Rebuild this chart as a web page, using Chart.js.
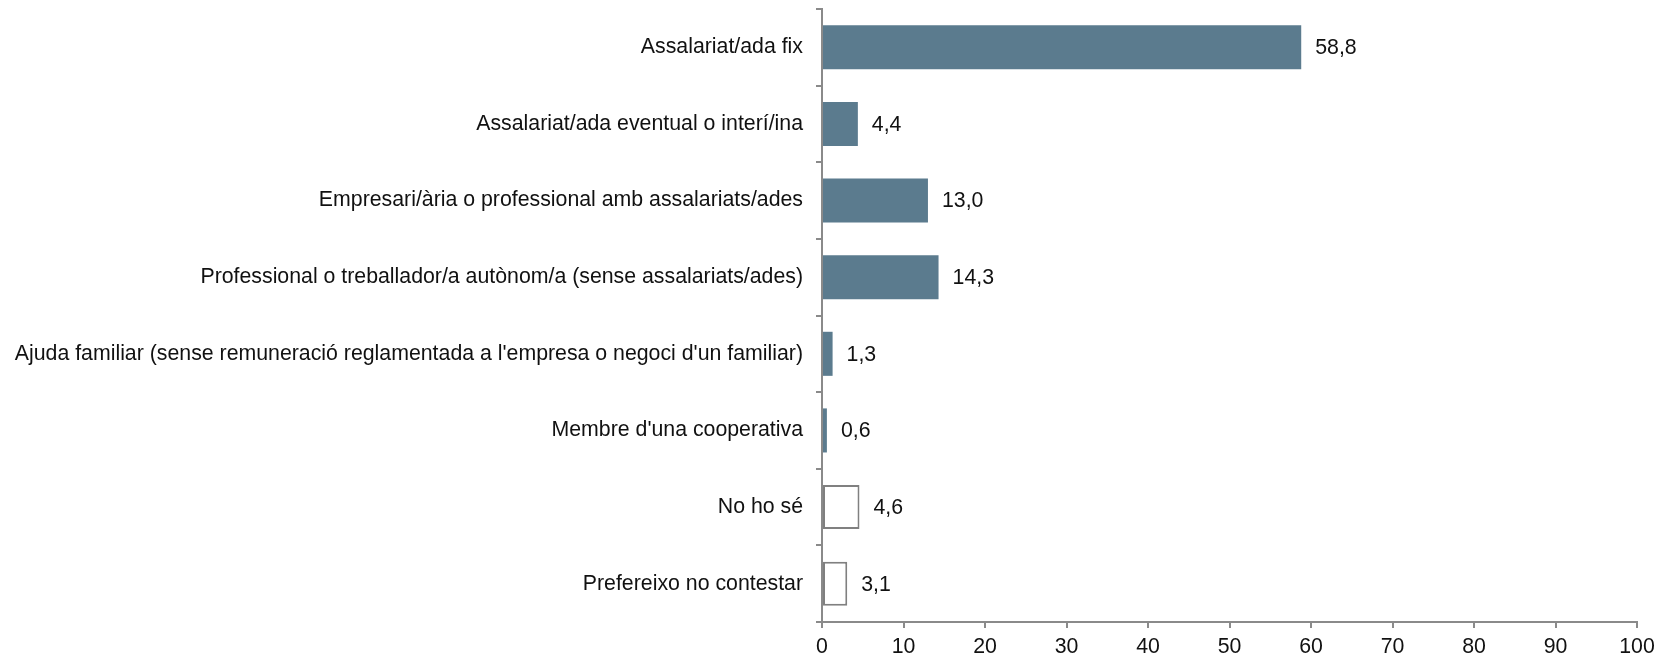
<!DOCTYPE html>
<html>
<head>
<meta charset="utf-8">
<script src="https://cdn.jsdelivr.net/npm/chart.js@4/dist/chart.umd.min.js"></script>
<style>
  html, body { margin: 0; padding: 0; background: #fff; }
  #wrap { width: 1672px; height: 657px; position: relative; }
</style>
</head>
<body>
<div id="wrap"><canvas id="chart"></canvas></div>
<script>
// Categories and values (%)
const categories = [
  'Assalariat/ada fix',
  'Assalariat/ada eventual o interí/ina',
  'Empresari/ària o professional amb assalariats/ades',
  'Professional o treballador/a autònom/a (sense assalariats/ades)',
  "Ajuda familiar (sense remuneració reglamentada a l'empresa o negoci d'un familiar)",
  "Membre d'una cooperativa",
  'No ho sé',
  'Prefereixo no contestar'
];
const values = [58.8, 4.4, 13.0, 14.3, 1.3, 0.6, 4.6, 3.1];
// last two categories are drawn as empty (outlined) bars
const outlined = [false, false, false, false, false, false, true, true];
const xTicks = [0, 10, 20, 30, 40, 50, 60, 70, 80, 90, 100];

const FONT = 'Liberation Sans, Arial, sans-serif';
const FONT_SIZE = 21.3;
const AXIS = '#8a8a8a';
const BAR = '#5b7b8e';

// draw value labels right of each bar (comma decimal)
const valueLabels = {
    id: 'valueLabels',
    afterDatasetsDraw: function (chart) {
        const ctx = chart.ctx;
        const meta = chart.getDatasetMeta(0);
        ctx.save();
        ctx.font = FONT_SIZE + 'px ' + FONT;
        ctx.fillStyle = '#111';
        ctx.textAlign = 'left';
        ctx.textBaseline = 'middle';
        meta.data.forEach(function (bar, i) {
            const txt = values[i].toFixed(1).replace('.', ',');
            ctx.fillText(txt, bar.x + 14, bar.y + 1);
        });
        ctx.restore();
    }
};

new Chart(document.getElementById('chart'), {
    type: 'bar',
    data: {
        labels: categories,
        datasets: [{
            data: values,
            backgroundColor: outlined.map(o => o ? '#ffffff' : BAR),
            borderColor: outlined.map(o => o ? '#808080' : BAR),
            borderWidth: outlined.map(o => o ? 2 : 0),
            borderSkipped: false,
            barPercentage: 0.575,
            categoryPercentage: 1
        }]
    },
    options: {
        indexAxis: 'y',
        responsive: true,
        maintainAspectRatio: false,
        animation: false,
        layout: { padding: { top: 9, right: 35, left: 0, bottom: 0 } },
        plugins: {
            legend: { display: false },
            tooltip: { enabled: false }
        },
        scales: {
            x: {
                min: 0,
                max: 100,
                afterBuildTicks: function (scale) {
                    scale.ticks = xTicks.map(v => ({ value: v }));
                },
                afterFit: function (scale) { scale.height = 35; },
                grid: {
                    drawOnChartArea: false,
                    color: AXIS,
                    lineWidth: 2,
                    tickLength: 6
                },
                border: { color: AXIS, width: 2 },
                ticks: {
                    color: '#111',
                    font: { family: FONT, size: FONT_SIZE },
                    padding: 6,
                    maxRotation: 0
                }
            },
            y: {
                offset: true,
                afterFit: function (scale) {
                    scale.width = 822;
                    scale.paddingTop = 0;
                    scale.paddingBottom = 0;
                },
                grid: {
                    offset: true,
                    drawOnChartArea: false,
                    color: AXIS,
                    lineWidth: 2,
                    tickLength: 6
                },
                border: { color: AXIS, width: 2 },
                ticks: {
                    color: '#111',
                    font: { family: FONT, size: FONT_SIZE },
                    padding: 13,
                    autoSkip: false
                }
            }
        }
    },
    plugins: [valueLabels]
});
</script>
</body>
</html>
